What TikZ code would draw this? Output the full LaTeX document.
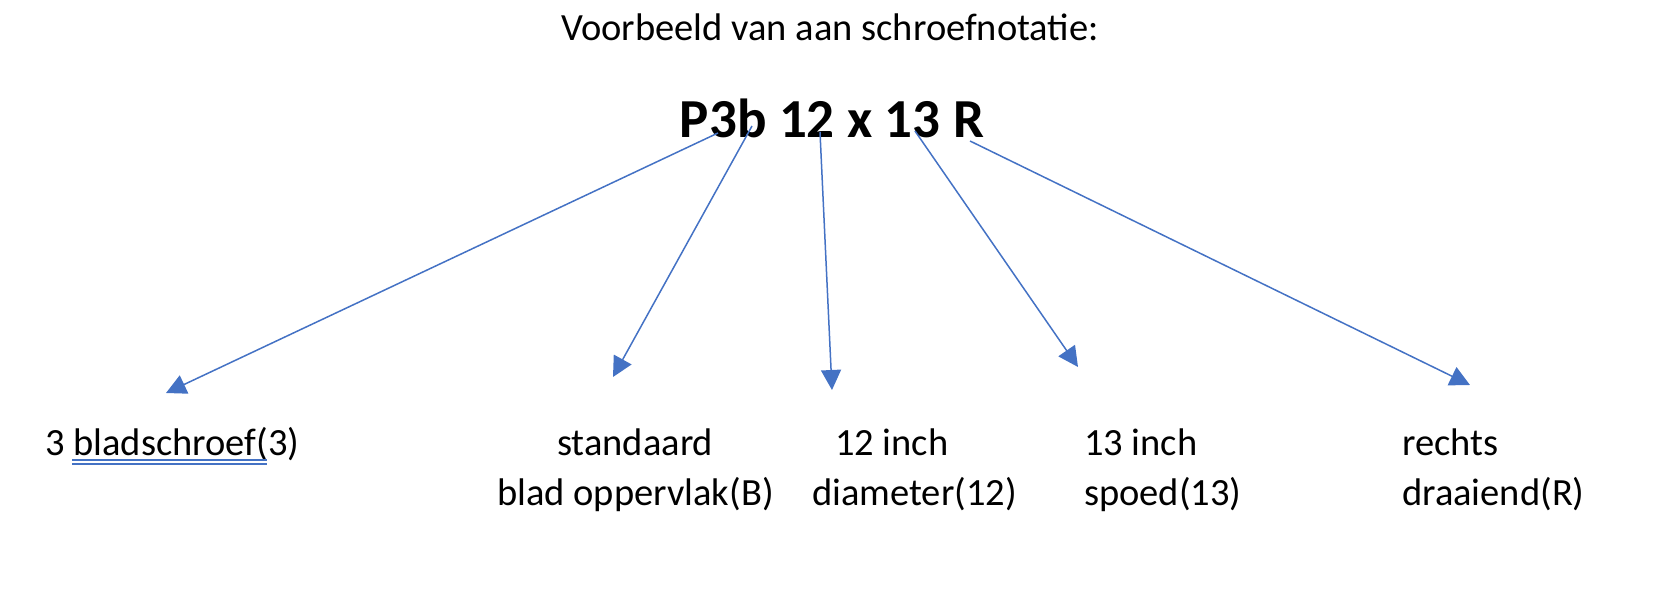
\documentclass[tikz,border=0pt]{standalone}
\usepackage{fontspec}
\setmainfont{Carlito}
\usetikzlibrary{arrows.meta}
\definecolor{pijlblauw}{HTML}{4472C4}
\tikzset{
  label/.style={anchor=base west, inner sep=0pt, font=\fontsize{38.5}{46}\selectfont},
  pijl/.style={draw=pijlblauw, line width=1.5pt, -{Triangle[length=20pt,width=20pt]}}
}

\begin{document}
\begin{tikzpicture}[x=1pt, y=-1pt]
  \useasboundingbox (0,0) rectangle (1658,602);

  % Titel
  \node[anchor=base, inner sep=0pt, font=\fontsize{38.5}{46}\selectfont] (titel) at (830,41) {Voorbeeld van aan schroefnotatie:};
  \node[anchor=base, inner sep=0pt, font=\fontsize{55}{66}\selectfont\bfseries] (code) at (832,137) {P3b 12 x 13 R};

  % Uitleg
  \node[label] (bladen) at (45,455) {3 bladschroef(3)};
  \node[label] (std) at (557,455) {standaard};
  \node[label] (opp) at (497,505) {blad oppervlak(B)};
  \node[label] (inch12) at (835,455) {12 inch};
  \node[label] (diam) at (812,505) {diameter(12)};
  \node[label] (inch13) at (1084,455) {13 inch};
  \node[label] (spoed) at (1084,505) {spoed(13)};
  \node[label] (rechts) at (1402,455) {rechts};
  \node[label] (draai) at (1402,505) {draaiend(R)};

  % dubbele streep onder bladschroef(
  \draw[pijlblauw, line width=1.5pt] (72,460) -- (267,460);
  \draw[pijlblauw, line width=1.5pt] (72,464) -- (267,464);

  % Pijlen
  \coordinate (van3) at (718,133);
  \coordinate (vanb) at (752,126);
  \coordinate (van12) at (820,132);
  \coordinate (van13) at (915,131);
  \coordinate (vanr) at (970,141);
  \coordinate (naar3) at (166,393);
  \coordinate (naarb) at (613,377);
  \coordinate (naar12) at (832,390);
  \coordinate (naar13) at (1078,367);
  \coordinate (naarr) at (1470,385);
  \draw[pijl] (van3) -- (naar3);
  \draw[pijl] (vanb) -- (naarb);
  \draw[pijl] (van12) -- (naar12);
  \draw[pijl] (van13) -- (naar13);
  \draw[pijl] (vanr) -- (naarr);
\end{tikzpicture}
\end{document}
